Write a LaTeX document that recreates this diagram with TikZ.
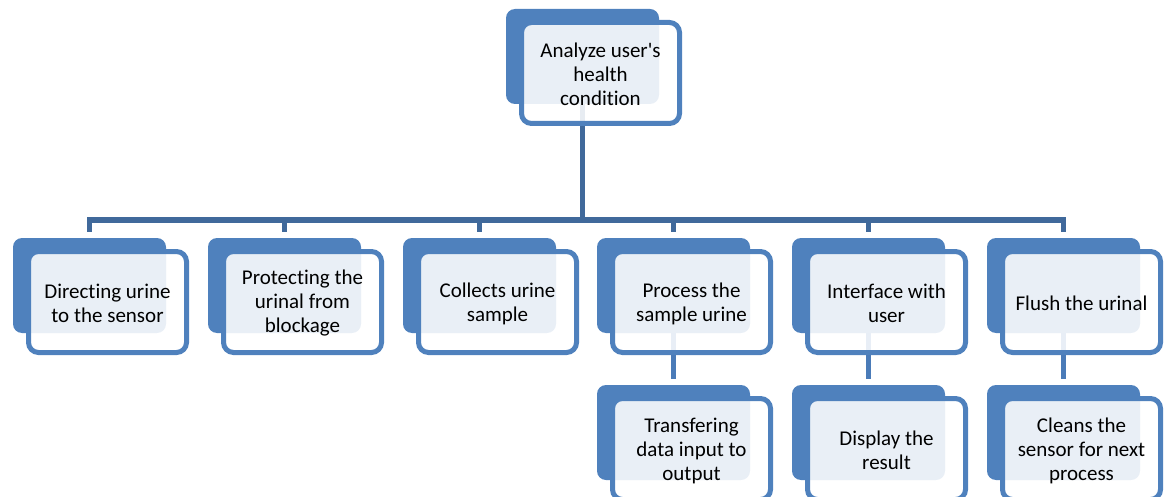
\documentclass[tikz,border=0pt]{standalone}
\usepackage{fontspec}
\setmainfont{Carlito}[Ligatures={TeXOff,NoCommon}]
\pgfdeclarelayer{links}
\pgfsetlayers{links,main}
\definecolor{boxblue}{HTML}{4F81BD}
\definecolor{treeblue}{HTML}{40699B}
\definecolor{linkblue}{HTML}{4A7BB8}
\tikzset{
  backbox/.style={fill=boxblue, draw=none, rounded corners=9pt,
    minimum width=153pt, minimum height=95pt, inner sep=0pt},
  frontbox/.style={draw=boxblue, line width=5pt, fill=white, fill opacity=0.88,
    rounded corners=10pt, minimum width=158pt, minimum height=101pt, inner sep=0pt},
  boxtext/.style={font=\fontsize{21}{24}\selectfont, align=center, text=black},
  tree/.style={draw=treeblue, line width=5.5pt},
  link/.style={draw=linkblue, line width=5pt},
}
% one entry: blue back card, outlined front card, centred text
\newcommand\mkentry[4]{%
  \node[backbox] (#1) at (#2,#3) {};
  \node[frontbox] (#1f) at ([shift={(18,16.5)}]#1.center) {};
  \node[boxtext] (#1t) at ([shift={(0,1.5)}]#1f.center) {#4};
}
\begin{document}
\begin{tikzpicture}[x=1pt,y=-1pt]
  \useasboundingbox (0,0) rectangle (1166,497);
  \clip (0,0) rectangle (1166,497);

  \mkentry{top}{582.5}{56.5}{Analyze user's\\health\\condition}

  \mkentry{c1}{89.5}{285.5}{Directing urine\\to the sensor}
  \mkentry{c2}{284.5}{285.5}{Protecting the\\urinal from\\blockage}
  \mkentry{c3}{479.5}{285.5}{Collects urine\\sample}
  \mkentry{c4}{673.5}{285.5}{Process the\\sample urine}
  \mkentry{c5}{868.5}{285.5}{Interface with\\user}
  \mkentry{c6}{1063.5}{285.5}{Flush the urinal}

  \mkentry{d4}{673.5}{432.5}{Transfering\\data input to\\output}
  \mkentry{d5}{868.5}{432.5}{Display the\\result}
  \mkentry{d6}{1063.5}{432.5}{Cleans the\\sensor for next\\process}

  \coordinate (bar) at (0,220);

  \begin{pgfonlayer}{links}
    \foreach \c in {c1,c2,c3,c4,c5,c6}
      \draw[tree] (top.south) -- (top.south |- bar) -| ([yshift=5.5pt]\c.north);
    \draw[link] (c4.south) -- ([yshift=5.5pt]d4.north);
    \draw[link] (c5.south) -- ([yshift=5.5pt]d5.north);
    \draw[link] (c6.south) -- ([yshift=5.5pt]d6.north);
  \end{pgfonlayer}
\end{tikzpicture}
\end{document}
